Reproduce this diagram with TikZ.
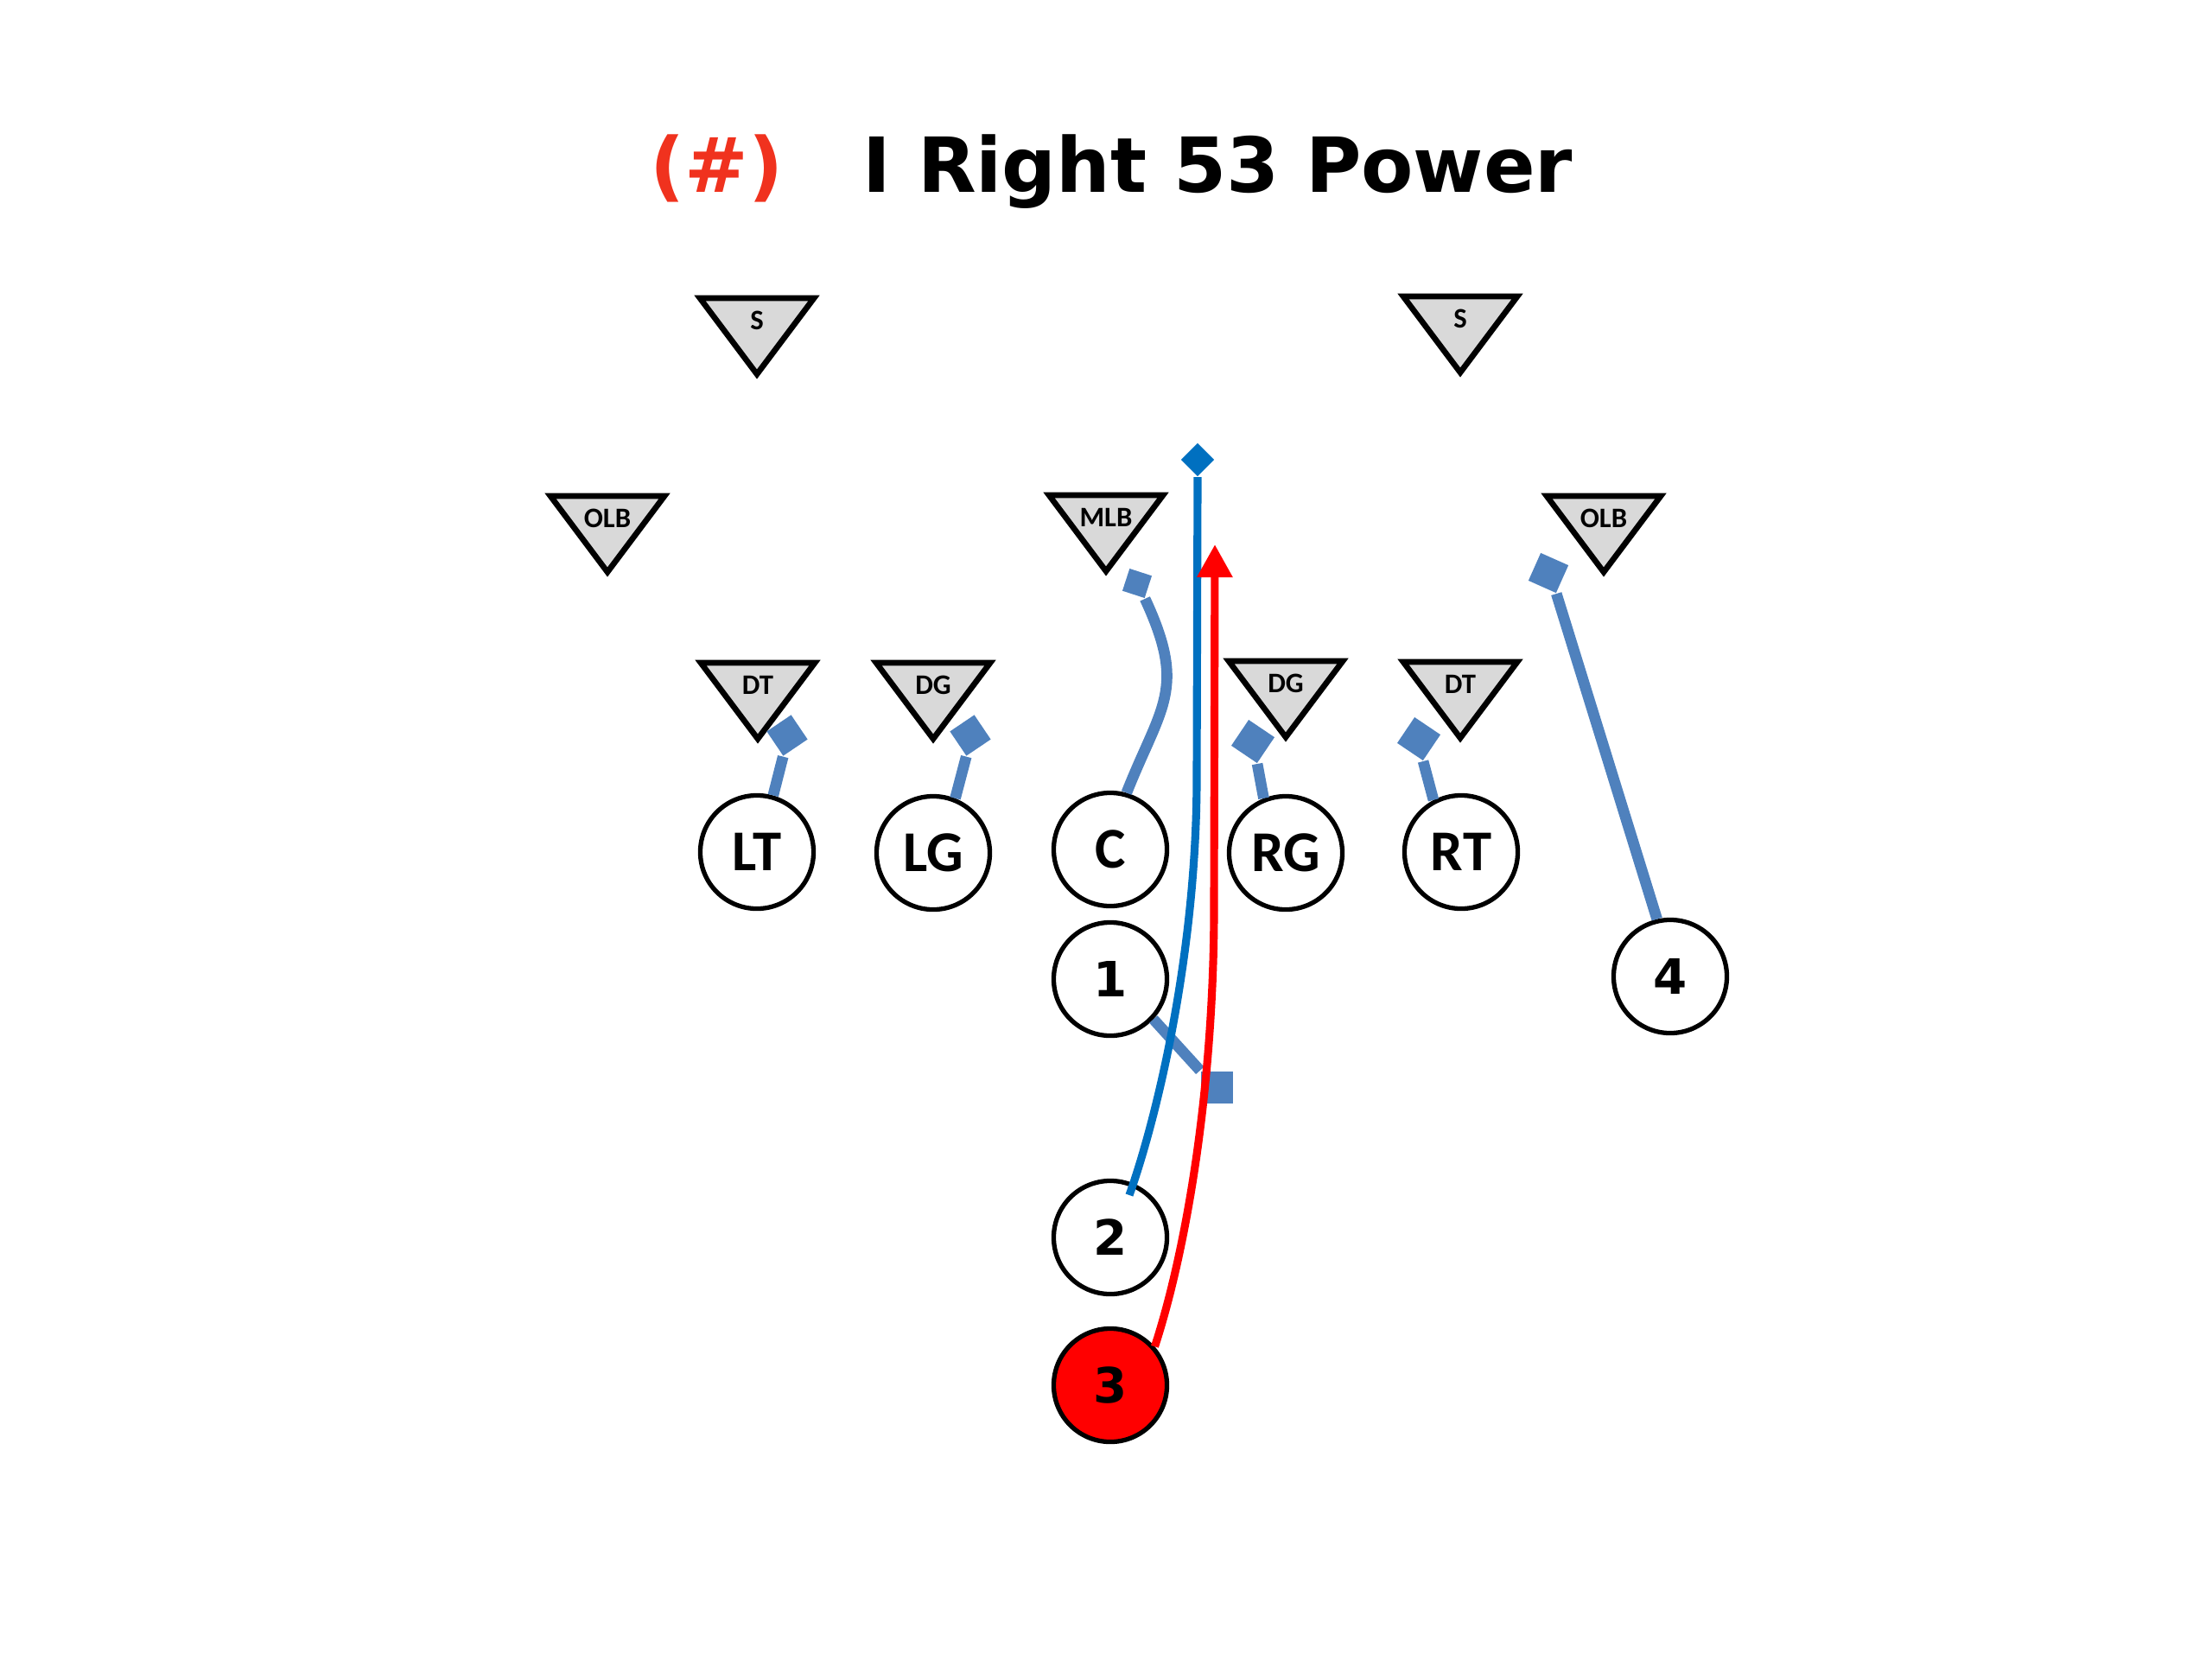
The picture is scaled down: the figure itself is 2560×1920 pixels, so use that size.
\documentclass[tikz,border=0pt]{standalone}
\usepackage{fontspec}
\newfontfamily\vfont{DejaVu Sans}
\newfontfamily\cfont{Carlito}
\usetikzlibrary{arrows.meta}
\definecolor{blk}{RGB}{79,129,189}
\definecolor{qbblue}{RGB}{0,112,192}
\definecolor{titlered}{RGB}{240,50,30}
\definecolor{defgray}{RGB}{217,217,217}
\newcommand\defender[4]{%
  \draw[deftri] (#2-66,#3) -- (#2+66,#3) -- (#2,#3+88) -- cycle;
  \node[deflabel] (#1) at (#2,#3+26) {#4};}
\begin{document}
\begin{tikzpicture}[x=0.01cm,y=-0.01cm,
  player/.style={circle, draw=black, line width=1.5pt, minimum size=1.31cm, inner sep=0pt, fill=white, font=\cfont\bfseries\fontsize{19}{19}\selectfont},
  back/.style={player, font=\vfont\bfseries\fontsize{16}{16}\selectfont},
  deflabel/.style={inner sep=0pt, font=\cfont\bfseries\fontsize{9.3}{9.3}\selectfont},
  deftri/.style={draw=black, fill=defgray, line width=1.9pt, line join=miter},
  blockhead/.style={rectangle, fill=blk, draw=none, inner sep=0pt},
  blockline/.style={draw=blk, line width=3.6pt},
  qbline/.style={draw=qbblue, line width=2.6pt},
  runline/.style={draw=red, line width=2.6pt, -{Triangle[width=0.39cm,length=0.38cm]}},
  titletext/.style={anchor=base west, inner sep=0pt, font=\vfont\bfseries\fontsize{25}{30}\selectfont}]
\useasboundingbox (0,0) rectangle (2560,1920);

% title
\node[titletext, text=titlered] (num) at (752,222) {(\#)};
\node[titletext] (title) at (998,222) {I Right 53 Power};

% defense
\defender{S1}{876}{345}{S}
\defender{S2}{1690}{343}{S}
\defender{OLB1}{703}{574}{OLB}
\defender{MLB}{1280}{573}{MLB}
\defender{OLB2}{1856}{574}{OLB}
\defender{DT1}{877}{767}{DT}
\defender{DG1}{1080}{767}{DG}
\defender{DG2}{1488}{765}{DG}
\defender{DT2}{1690}{766}{DT}

% offense
\node[player] (LT) at (876,986) {LT};
\node[player] (LG) at (1080,987) {LG};
\node[player] (C) at (1285,983) {C};
\node[player] (RG) at (1488,987) {RG};
\node[player] (RT) at (1691,986) {RT};
\node[back] (n1) at (1285,1133) {1};
\node[back] (n4) at (1933,1130) {4};
\node[back] (n2) at (1285,1432) {2};
\node[back, fill=red] (n3) at (1285,1603) {3};

% block heads
\node[blockhead, minimum size=0.34cm, rotate=34] (bLT) at (911,851) {};
\node[blockhead, minimum size=0.34cm, rotate=34] (bLG) at (1123,851) {};
\node[blockhead, minimum size=0.36cm, rotate=-34] (bRG) at (1450,858) {};
\node[blockhead, minimum size=0.36cm, rotate=-34] (bRT) at (1642,855) {};
\node[blockhead, minimum size=0.27cm, rotate=-18] (bMLB) at (1316,675) {};
\node[blockhead, minimum size=0.35cm, rotate=-24] (bOLB) at (1792,663) {};
\node[blockhead, minimum size=0.37cm] (lead) at (1408,1258) {};

% blocks
\draw[blockline] (LT.74) -- (bLT.south west);
\draw[blockline] (LG.68) -- (bLG.south west);
\draw[blockline] (RG.112) -- (bRG.south east);
\draw[blockline] (RT.118) -- (bRT.south east);
\draw[blockline] (C.74) .. controls (1344,816) and (1374,798) .. (bMLB.south east);
\draw[blockline] (n1.-43) -- (lead.north west);
\draw[blockline] (n4.103) -- (bOLB.south east);

% QB path
\node[rectangle, fill=qbblue, inner sep=0pt, minimum size=0.27cm, rotate=45] (qbd) at (1386,532) {};
\coordinate (qbs) at ([shift={(22,-49)}]n2.center);
\draw[qbline] (qbs) .. controls (1340,1290) and (1385,1100) .. (1385,900) -- (qbd.south west);

% ball carrier
\coordinate (rtip) at (1406,630);
\draw[runline] (n3.41) .. controls (1375,1440) and (1405,1250) .. (1405,1050) -- (rtip);
\end{tikzpicture}
\end{document}
